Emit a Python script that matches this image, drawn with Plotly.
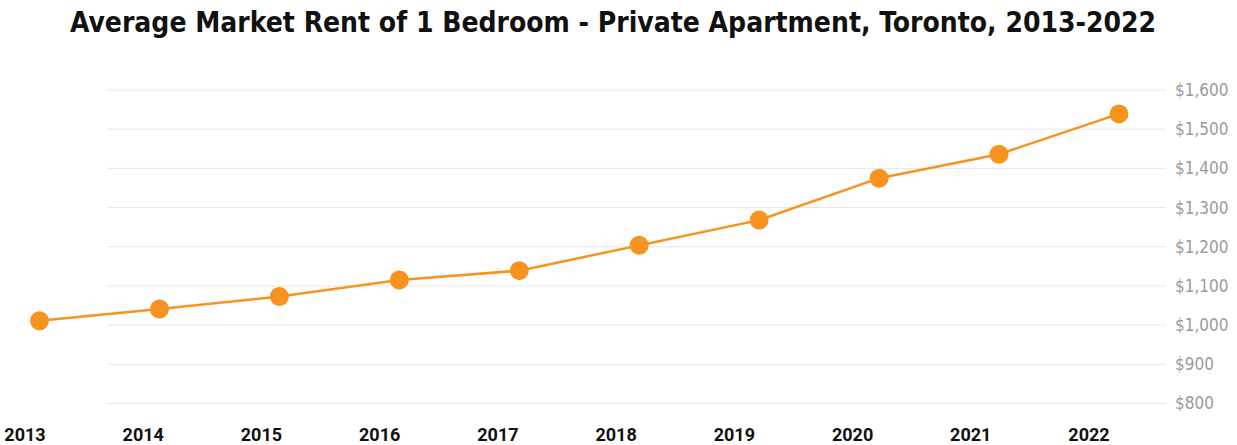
import plotly.graph_objects as go

# ---- data ----
years = [2013, 2014, 2015, 2016, 2017, 2018, 2019, 2020, 2021, 2022]
rent = [1011, 1041, 1073, 1115, 1139, 1204, 1268, 1375, 1436, 1539]
year_labels = [str(y) for y in years]
y_ticks = [800, 900, 1000, 1100, 1200, 1300, 1400, 1500, 1600]
y_tick_text = ["$800", "$900", "$1,000", "$1,100", "$1,200", "$1,300", "$1,400", "$1,500", "$1,600"]

ORANGE = "#F7931E"

fig = go.Figure()
fig.add_trace(go.Scatter(
    x=years, y=rent, mode="lines+markers",
    line=dict(color=ORANGE, width=2.5),
    marker=dict(color=ORANGE, size=19),
    cliponaxis=False, showlegend=False, hoverinfo="x+y",
))
# helper trace carrying the label axis
fig.add_trace(go.Scatter(
    x=years, y=rent, xaxis="x2", mode="none", showlegend=False, hoverinfo="skip",
))

grid_x0 = 107 / 1166
for v in y_ticks:
    fig.add_shape(type="line", xref="paper", yref="y", x0=grid_x0, x1=1, y0=v, y1=v,
                  line=dict(color="#E6E6E6", width=1), layer="below")

fig.update_layout(
    width=1237, height=445,
    margin=dict(l=0, r=71, t=60, b=25),
    paper_bgcolor="white", plot_bgcolor="white",
    title=dict(
        text="<b>Average Market Rent of 1 Bedroom - Private Apartment, Toronto, 2013-2022</b>",
        x=613 / 1237, xref="container", xanchor="center",
        y=0.95, yref="container", yanchor="middle",
        font=dict(family="DejaVu Sans Condensed, DejaVu Sans", size=28, color="#111111"),
    ),
    xaxis=dict(
        range=[2012.6707, 2022.3922], showticklabels=False, showgrid=False,
        zeroline=False, showline=False, ticks="",
    ),
    xaxis2=dict(
        overlaying="x", anchor="y", side="bottom",
        range=[2012.7885, 2022.6514],
        tickmode="array", tickvals=years, ticktext=year_labels,
        showgrid=False, zeroline=False, showline=False, ticks="",
        tickfont=dict(family="Roboto", size=18, color="#111111", weight="bold"),
        ticklabelstandoff=2,
    ),
    yaxis=dict(
        side="right", range=[757.9, 1676.55],
        tickmode="array", tickvals=y_ticks, ticktext=y_tick_text,
        showgrid=False, zeroline=False, showline=False, ticks="",
        tickfont=dict(family="DejaVu Sans Condensed, DejaVu Sans", size=17, color="#9A9A9A"),
        ticklabelstandoff=8,
    ),
)

fig.write_html("out.html", config={"displayModeBar": False},
               post_script="document.body.style.margin='0';")
